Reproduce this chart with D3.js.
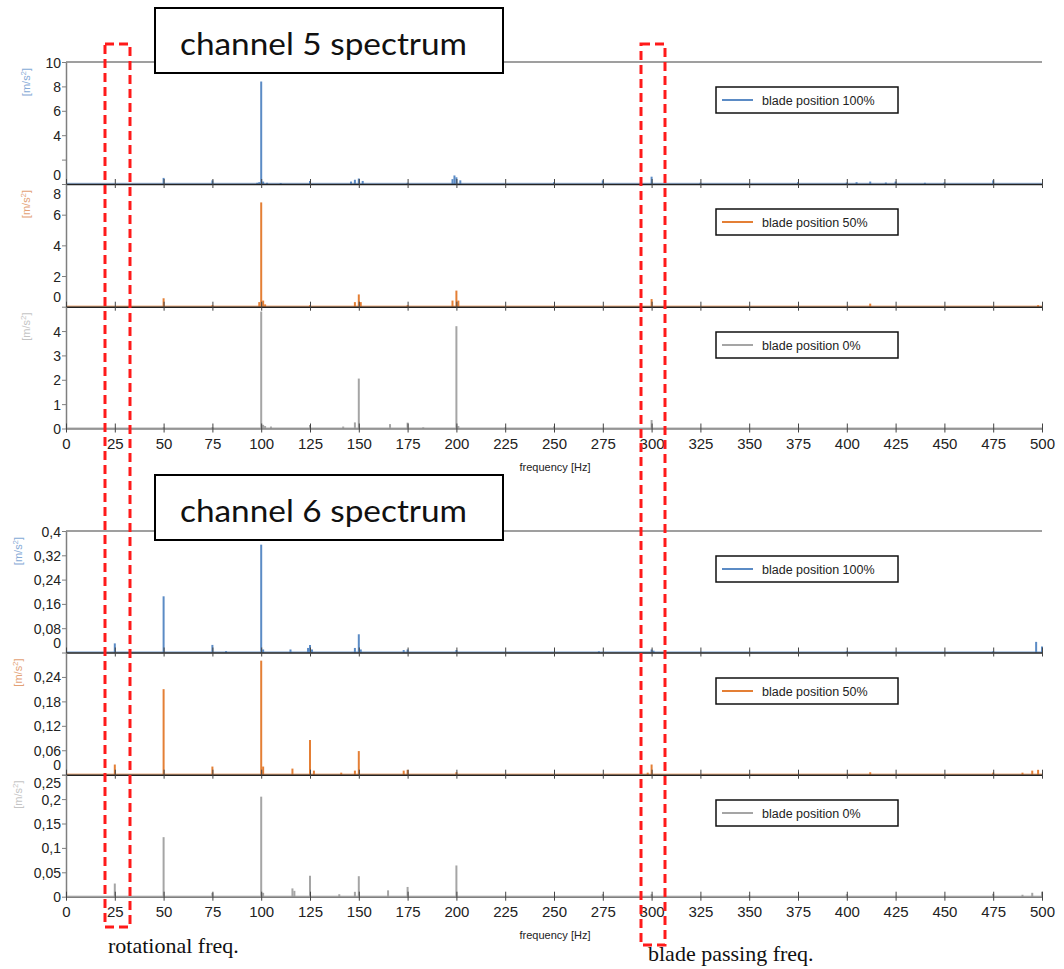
<!DOCTYPE html>
<html>
<head>
<meta charset="utf-8">
<script src="https://cdn.jsdelivr.net/npm/d3@7"></script>
<style>
  body { margin: 0; background: #fff; }
  svg { display: block; font-family: "Liberation Sans", Arial, sans-serif; }
</style>
</head>
<body>
<svg id="chart" width="1064" height="969"></svg>
<script>
// frequency axis, Hz
const freqTicks = [0, 25, 50, 75, 100, 125, 150, 175, 200, 225, 250, 275, 300, 325, 350, 375, 400, 425, 450, 475, 500]

const seriesNames = ['blade position 100%', 'blade position 50%', 'blade position 0%']

// channel 5 spectra: [frequency Hz, amplitude m/s²]
const ch5Pos100 = [[50, 0.5], [75, 0.3], [98, 0.1], [99, 0.15], [100, 8.4], [101, 0.2], [103, 0.1], [110, 0.08],
    [125, 0.25], [146, 0.2], [148, 0.35], [150, 0.45], [152, 0.25], [175, 0.1], [198, 0.4], [199, 0.7], [200, 0.55],
    [202, 0.3], [250, 0.15], [275, 0.3], [300, 0.6], [325, 0.1], [375, 0.15], [400, 0.12], [405, 0.15], [412, 0.2],
    [420, 0.12], [425, 0.2], [440, 0.1], [450, 0.12], [475, 0.3]]
const ch5Pos50 = [[50, 0.55], [75, 0.1], [99, 0.3], [100, 6.8], [101, 0.4], [102, 0.15], [125, 0.1], [148, 0.3],
    [150, 0.8], [151, 0.3], [175, 0.1], [198, 0.4], [200, 1.05], [201, 0.4], [250, 0.05], [300, 0.5], [412, 0.2], [498, 0.1]]
const ch5Pos0 = [[50, 0.05], [75, 0.05], [100, 4.8], [101, 0.15], [102, 0.1], [105, 0.08], [125, 0.14], [142, 0.08],
    [148, 0.25], [150, 2.05], [166, 0.18], [175, 0.24], [183, 0.05], [200, 4.2], [201, 0.1], [225, 0.04], [250, 0.08], [300, 0.35]]

// channel 6 spectra
const ch6Pos100 = [[25, 0.03], [50, 0.185], [75, 0.025], [82, 0.005], [100, 0.355], [101, 0.01], [115, 0.01],
    [124, 0.015], [125, 0.025], [126, 0.01], [148, 0.015], [150, 0.06], [151, 0.01], [173, 0.008], [175, 0.01],
    [200, 0.008], [273, 0.004], [300, 0.01], [301, 0.006], [400, 0.004], [475, 0.004], [497, 0.035], [500, 0.02]]
const ch6Pos50 = [[25, 0.025], [50, 0.21], [75, 0.02], [100, 0.28], [101, 0.02], [116, 0.015], [125, 0.085],
    [127, 0.01], [141, 0.005], [148, 0.01], [150, 0.058], [173, 0.01], [175, 0.012], [200, 0.006], [298, 0.005],
    [300, 0.025], [412, 0.006], [475, 0.005], [490, 0.005], [495, 0.01], [498, 0.012]]
const ch6Pos0 = [[25, 0.027], [50, 0.122], [75, 0.008], [100, 0.205], [101, 0.008], [116, 0.017], [117, 0.012],
    [125, 0.043], [140, 0.005], [148, 0.01], [150, 0.042], [165, 0.013], [175, 0.02], [200, 0.064], [275, 0.005],
    [300, 0.005], [350, 0.003], [400, 0.005], [475, 0.006], [490, 0.004], [495, 0.008], [500, 0.01]]

// y ticks of each panel
const ch5Ticks100 = [0, 2, 4, 6, 8, 10]
const ch5Ticks50 = [0, 2, 4, 6, 8]
const ch5Ticks0 = [0, 1, 2, 3, 4]
const ch6Ticks100 = [0, 0.08, 0.16, 0.24, 0.32, 0.4]
const ch6Ticks50 = [0, 0.06, 0.12, 0.18, 0.24]
const ch6Ticks0 = [0, 0.05, 0.1, 0.15, 0.2, 0.25]

const colors = ['#5b8bc5', '#e47f35', '#a5a5a5']
const labelColors = ['#86aad6', '#e3a175', '#c4c4c4']

const svg = d3.select('#chart')
const x = d3.scaleLinear().domain([0, 500]).range([66, 1042])
const fmt = d3.formatLocale({ decimal: ',', thousands: '.', grouping: [3], currency: ['', ''] }).format('~g')

/**
 * Draws one stacked spectrum panel
 * @param {Array} data - [freq, amp] pairs
 * @param {Array} domain - y domain
 * @param {Array} range - [bottom, top] pixel range
 */
const drawPanel = ({ data, domain, range, ticks, idx, unitX, hideLabels = [], shift = {}, legendY, xLabels = false, topLine = false }) => {
    const y = d3.scaleLinear().domain(domain).range(range)
    const g = svg.append('g')

    if (topLine) {
        g.append('line').attr('x1', x(0)).attr('x2', x(500)).attr('y1', range[1]).attr('y2', range[1])
            .attr('stroke', '#7f7f7f').attr('stroke-width', 1.5)
    }

    // y axis
    const yAxis = g.append('g').attr('transform', `translate(${x(0)},0)`)
        .call(d3.axisLeft(y).tickValues(ticks).tickSizeInner(4).tickSizeOuter(0).tickFormat(d => hideLabels.includes(d) ? '' : fmt(d)))
    yAxis.select('.domain').attr('stroke', '#7f7f7f').attr('stroke-width', 1.5)
    yAxis.selectAll('.tick line').attr('stroke', '#7f7f7f')
    yAxis.selectAll('.tick text').attr('font-size', 14).attr('fill', '#222').attr('x', -5)
        .attr('font-family', '"Liberation Sans", Arial, sans-serif')
        .attr('dy', d => (shift[d] !== undefined ? shift[d] : 0) + 5)

    // unit label
    g.append('text').attr('transform', `translate(${unitX},${range[1] + 20}) rotate(-90)`)
        .attr('text-anchor', 'middle').attr('font-size', 11).attr('fill', labelColors[idx])
        .html('[m/s<tspan dy="-4" font-size="8">2</tspan><tspan dy="4">]</tspan>')

    // noise floor and spikes
    g.append('line').attr('x1', x(0)).attr('x2', x(500)).attr('y1', y(0) - 0.5).attr('y2', y(0) - 0.5)
        .attr('stroke', colors[idx]).attr('stroke-width', 1.5).attr('opacity', 0.6)
    g.selectAll('line.spike').data(data).join('line').attr('class', 'spike')
        .attr('x1', d => x(d[0])).attr('x2', d => x(d[0]))
        .attr('y1', y(0)).attr('y2', d => y(d[1]))
        .attr('stroke', colors[idx]).attr('stroke-width', 2)

    // x axis with crossing ticks
    const xAxis = g.append('g').attr('transform', `translate(0,${y(0)})`)
        .call(d3.axisBottom(x).tickValues(freqTicks).tickSizeInner(4).tickSizeOuter(0).tickFormat(d => xLabels ? d : ''))
    xAxis.select('.domain').attr('stroke', idx === 2 ? '#7f7f7f' : '#222').attr('stroke-width', 1.5)
    xAxis.selectAll('.tick line').attr('y1', -5).attr('y2', 4).attr('stroke', '#444')
    xAxis.selectAll('.tick text').attr('font-size', 15).attr('fill', '#222').attr('y', 10)
        .attr('font-family', '"Liberation Sans", Arial, sans-serif')
    if (xLabels) {
        g.append('text').attr('x', 555).attr('y', y(0) + 42).attr('text-anchor', 'middle')
            .attr('font-size', 11).attr('fill', '#222').text('frequency [Hz]')
    }

    // legend
    const lg = g.append('g').attr('transform', `translate(716,${legendY})`)
    lg.append('rect').attr('width', 182).attr('height', 26).attr('fill', '#fff').attr('stroke', '#111').attr('stroke-width', 1.5)
    lg.append('line').attr('x1', 6).attr('x2', 37).attr('y1', 13).attr('y2', 13).attr('stroke', colors[idx]).attr('stroke-width', 2)
    lg.append('text').attr('x', 46).attr('y', 17.5).attr('font-size', 12.5).attr('fill', '#222').text(seriesNames[idx])
}

drawPanel({ data: ch5Pos100, domain: [0, 10], range: [184, 62], ticks: ch5Ticks100, idx: 0, unitX: 30, hideLabels: [2], shift: { 0: -10 }, legendY: 87, topLine: true })
drawPanel({ data: ch5Pos50, domain: [0, 8], range: [306.7, 184], ticks: ch5Ticks50, idx: 1, unitX: 30, shift: { 0: -10, 8: 9 }, legendY: 209 })
drawPanel({ data: ch5Pos0, domain: [0, 5], range: [428.5, 306.7], ticks: ch5Ticks0, idx: 2, unitX: 30, legendY: 332, xLabels: true })
drawPanel({ data: ch6Pos100, domain: [0, 0.4], range: [652.5, 531], ticks: ch6Ticks100, idx: 0, unitX: 22, shift: { 0: -10 }, legendY: 556, topLine: true })
drawPanel({ data: ch6Pos50, domain: [0, 0.3], range: [774.7, 652.5], ticks: ch6Ticks50, idx: 1, unitX: 22, shift: { 0: -10 }, legendY: 678 })
drawPanel({ data: ch6Pos0, domain: [0, 0.25], range: [896.7, 774.7], ticks: ch6Ticks0, idx: 2, unitX: 22, shift: { 0.25: 8 }, legendY: 800, xLabels: true })

// channel title boxes
const titleBox = (top, label) => {
    svg.append('rect').attr('x', 155).attr('y', top).attr('width', 348).attr('height', 65)
        .attr('fill', '#fff').attr('stroke', '#000').attr('stroke-width', 2)
    svg.append('text').attr('x', 180).attr('y', top + 47).attr('font-size', 31)
        .attr('font-family', 'Lato, "Open Sans", sans-serif').attr('fill', '#111')
        .attr('textLength', 287).attr('lengthAdjust', 'spacingAndGlyphs').text(label)
}
titleBox(8, 'channel 5 spectrum')
titleBox(475, 'channel 6 spectrum')

// highlighted frequencies
const dashBox = (x0, x1, y0, y1) => {
    svg.append('rect').attr('x', x0).attr('y', y0).attr('width', x1 - x0).attr('height', y1 - y0)
        .attr('fill', 'none').attr('stroke', '#ff1a1a').attr('stroke-width', 3).attr('stroke-dasharray', '9,5')
}
dashBox(105, 130, 44, 927)
dashBox(641, 665, 44, 945)

svg.append('text').attr('x', 108).attr('y', 953).attr('font-size', 22)
    .attr('font-family', '"Liberation Serif", "DejaVu Serif", serif').attr('fill', '#111').text('rotational freq.')
svg.append('text').attr('x', 648).attr('y', 961).attr('font-size', 22)
    .attr('font-family', '"Liberation Serif", "DejaVu Serif", serif').attr('fill', '#111').text('blade passing freq.')
</script>
</body>
</html>
